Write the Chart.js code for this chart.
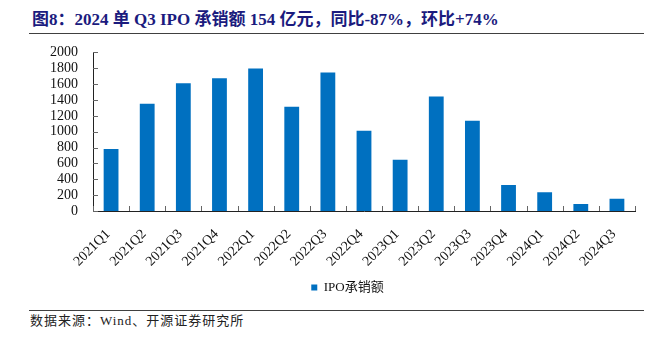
<!DOCTYPE html>
<html>
<head>
<meta charset="utf-8">
<script src="https://cdn.jsdelivr.net/npm/chart.js@4"></script>
<style>
  html, body { margin: 0; padding: 0; background: #fff; }
  body { width: 658px; height: 340px; position: relative; overflow: hidden; }
  #title {
    position: absolute; left: 32px; top: 9px;
    font: bold 17px "Liberation Serif", "Noto Sans CJK SC", serif;
    line-height: 22px;
    color: #1b1b7e; white-space: nowrap;
  }
  .rule { position: absolute; left: 29px; width: 615px; height: 0; border-top: 1.5px solid #404040; }
  #wrap { position: absolute; left: 0; top: 29px; width: 658px; height: 281px; }
  #source {
    position: absolute; left: 30px; top: 312px;
    font: 13px "Liberation Serif", "Noto Sans CJK SC", serif;
    line-height: 18px; letter-spacing: 1px;
    color: #222; white-space: nowrap;
  }
</style>
</head>
<body>
<div id="title">图8：2024 单 Q3 IPO 承销额 154 亿元，同比-87%，环比+74%</div>
<div class="rule" style="top:33px"></div>
<div id="wrap"><canvas id="c"></canvas></div>
<div class="rule" style="top:310px"></div>
<div id="source">数据来源：Wind、开源证券研究所</div>
<script>
// Quarterly IPO underwriting amount (亿元)
const quarters = ['2021Q1','2021Q2','2021Q3','2021Q4','2022Q1','2022Q2','2022Q3','2022Q4',
                  '2023Q1','2023Q2','2023Q3','2023Q4','2024Q1','2024Q2','2024Q3'];
const ipoUnderwriting = [781, 1354, 1611, 1675, 1797, 1316, 1747, 1013,
                         646, 1443, 1139, 327, 235, 88, 154];
const seriesName = 'IPO承销额';
const yMin = 0, yMax = 2000, yStep = 200;

const fontFamily = '"Liberation Serif", "Noto Sans CJK SC", serif';

// Short tick marks pointing into the plot area
const innerTicks = {
  id: 'innerTicks',
  afterDraw(chart) {
    const { ctx, scales: { x, y } } = chart;
    ctx.save();
    ctx.strokeStyle = '#666';
    ctx.lineWidth = 1;
    ctx.beginPath();
    y.ticks.forEach((t, i) => {
      const py = Math.round(y.getPixelForTick(i)) + 0.5;
      ctx.moveTo(y.right, py);
      ctx.lineTo(y.right + 5, py);
    });
    const n = x.ticks.length;
    for (let i = 0; i <= n; i++) {
      const px = Math.round(x.getPixelForValue(i - 0.5)) + 0.5;
      ctx.moveTo(px, x.top);
      ctx.lineTo(px, x.top - 5);
    }
    ctx.stroke();
    ctx.restore();
  }
};

// Nudge the legend a little to the right of the centred position
const legendShift = {
  id: 'legendShift',
  afterLayout(chart) {
    if (chart.legend) {
      chart.legend.left += 10;
      chart.legend.right += 10;
    }
  }
};

new Chart(document.getElementById('c'), {
  type: 'bar',
  data: {
    labels: quarters,
    datasets: [{
      label: seriesName,
      data: ipoUnderwriting,
      backgroundColor: '#0070C0',
      borderWidth: 0,
      barPercentage: 0.41,
      categoryPercentage: 1.0
    }]
  },
  options: {
    responsive: true,
    maintainAspectRatio: false,
    animation: false,
    layout: { padding: { left: 40, right: 23, top: 3, bottom: 6 } },
    plugins: {
      legend: {
        position: 'bottom',
        labels: {
          boxWidth: 6, boxHeight: 6, padding: 10,
          color: '#111',
          font: { family: fontFamily, size: 13 }
        }
      },
      tooltip: { enabled: false }
    },
    scales: {
      x: {
        grid: { display: false, drawTicks: false },
        border: { display: true, color: '#222', width: 1 },
        ticks: {
          color: '#111', minRotation: 45, maxRotation: 45, padding: 15,
          labelOffset: -3, autoSkip: false,
          font: { family: fontFamily, size: 14 }
        },
        afterFit(scale) { scale.height = 60; }
      },
      y: {
        min: yMin, max: yMax,
        grid: { display: false, drawTicks: false },
        border: { display: true, color: '#222', width: 1 },
        ticks: {
          stepSize: yStep, color: '#111', padding: 15, autoSkip: false,
          callback: (v) => String(v),
          font: { family: fontFamily, size: 14 }
        },
        afterFit(scale) { scale.width = 53; }
      }
    }
  },
  plugins: [innerTicks, legendShift]
});
</script>
</body>
</html>
